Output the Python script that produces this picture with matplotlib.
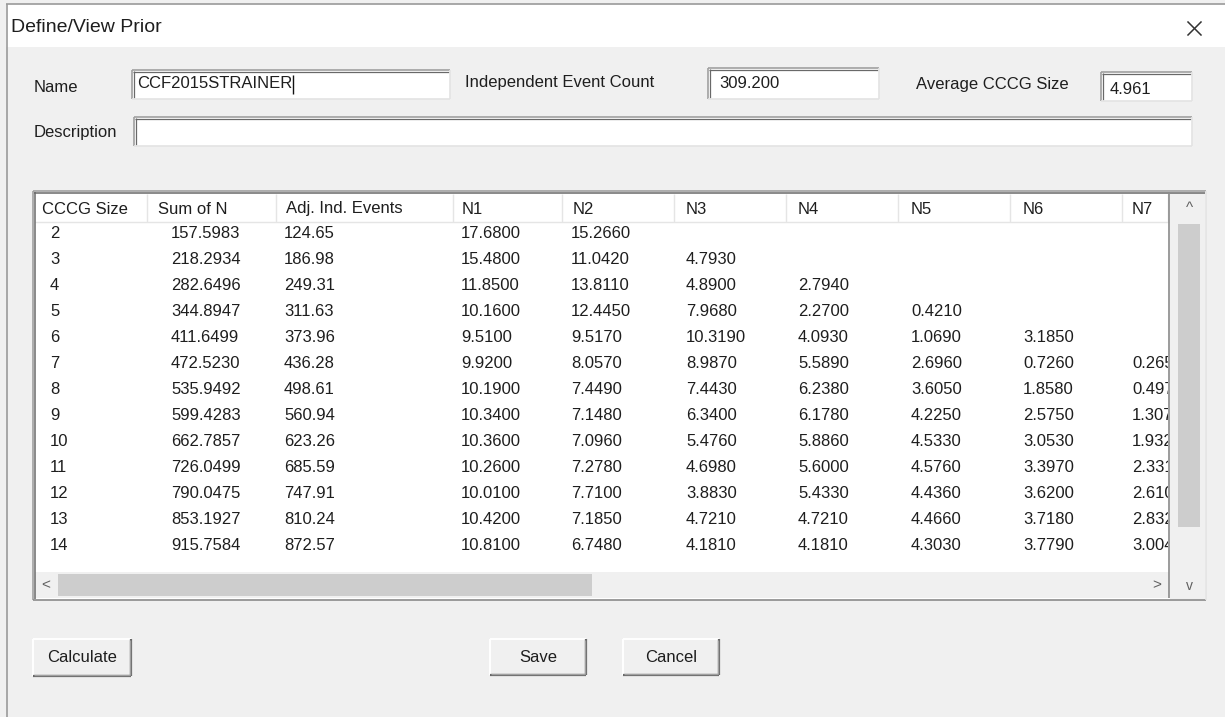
import matplotlib
matplotlib.use("Agg")
import matplotlib.pyplot as plt
from matplotlib.patches import Rectangle

# ---------------- data ----------------
title = "Define/View Prior"
name_value = "CCF2015STRAINER"
ind_event_count = "309.200"
avg_cccg_size = "4.961"

headers = ["CCCG Size", "Sum of N", "Adj. Ind. Events", "N1", "N2", "N3", "N4", "N5", "N6", "N7"]
cccg_size = [2, 3, 4, 5, 6, 7, 8, 9, 10, 11, 12, 13, 14]
sum_of_n = ["157.5983", "218.2934", "282.6496", "344.8947", "411.6499", "472.5230", "535.9492",
            "599.4283", "662.7857", "726.0499", "790.0475", "853.1927", "915.7584"]
adj_ind_events = ["124.65", "186.98", "249.31", "311.63", "373.96", "436.28", "498.61",
                  "560.94", "623.26", "685.59", "747.91", "810.24", "872.57"]
n1 = ["17.6800", "15.4800", "11.8500", "10.1600", "9.5100", "9.9200", "10.1900",
      "10.3400", "10.3600", "10.2600", "10.0100", "10.4200", "10.8100"]
n2 = ["15.2660", "11.0420", "13.8110", "12.4450", "9.5170", "8.0570", "7.4490",
      "7.1480", "7.0960", "7.2780", "7.7100", "7.1850", "6.7480"]
n3 = ["", "4.7930", "4.8900", "7.9680", "10.3190", "8.9870", "7.4430",
      "6.3400", "5.4760", "4.6980", "3.8830", "4.7210", "4.1810"]
n4 = ["", "", "2.7940", "2.2700", "4.0930", "5.5890", "6.2380",
      "6.1780", "5.8860", "5.6000", "5.4330", "4.7210", "4.1810"]
n5 = ["", "", "", "0.4210", "1.0690", "2.6960", "3.6050",
      "4.2250", "4.5330", "4.5760", "4.4360", "4.4660", "4.3030"]
n6 = ["", "", "", "", "3.1850", "0.7260", "1.8580",
      "2.5750", "3.0530", "3.3970", "3.6200", "3.7180", "3.7790"]
n7 = ["", "", "", "", "", "0.2650", "0.4970",
      "1.3070", "1.9320", "2.3310", "2.6100", "2.8320", "3.0040"]
buttons = ["Calculate", "Save", "Cancel"]

# ---------------- fonts ----------------
FONT = "Liberation Sans"
FS = 12.0
plt.rcParams["font.family"] = [FONT, "DejaVu Sans"]

W, H = 1225, 717
fig = plt.figure(figsize=(W / 100, H / 100), dpi=100)
ax = fig.add_axes([0, 0, 1, 1])
ax.set_xlim(0, W)
ax.set_ylim(H, 0)
ax.axis("off")

BG = "#f0f0f0"
TXT = "#1e1e1e"
fig.patch.set_facecolor(BG)


def rect(x0, y0, x1, y1, fc, ec="none", lw=0, z=1):
    ax.add_patch(Rectangle((x0, y0), x1 - x0, y1 - y0, facecolor=fc, edgecolor=ec,
                           linewidth=lw, zorder=z))


def hline(x0, x1, y, c, lw=1, z=3):
    ax.plot([x0, x1], [y, y], color=c, lw=lw, zorder=z, solid_capstyle="butt")


def vline(x, y0, y1, c, lw=1, z=3):
    ax.plot([x, x], [y0, y1], color=c, lw=lw, zorder=z, solid_capstyle="butt")


def sunken(x0, y0, x1, y1, fc="white", z=2):
    rect(x0, y0, x1, y1, fc, z=z)
    hline(x0, x1, y0, "#a0a0a0", 1.2, z + 1)
    vline(x0, y0, y1, "#a0a0a0", 1.2, z + 1)
    hline(x0 + 1, x1 - 1, y0 + 1.5, "#696969", 0.9, z + 1)
    vline(x0 + 1.5, y0 + 1, y1 - 1, "#696969", 0.9, z + 1)
    hline(x0, x1, y1, "#e3e3e3", 1.2, z + 1)
    vline(x1, y0, y1, "#e3e3e3", 1.2, z + 1)


def button(x0, y0, x1, y1, label):
    rect(x0, y0, x1, y1, "#f0f0f0", z=2)
    hline(x0, x1, y0, "white", 1.4, 3)
    vline(x0, y0, y1, "white", 1.4, 3)
    hline(x0, x1, y1, "#696969", 1.6, 3)
    vline(x1, y0, y1, "#696969", 1.6, 3)
    hline(x0 + 1, x1 - 1, y1 - 1.5, "#a0a0a0", 1.0, 3)
    vline(x1 - 1.5, y0 + 1, y1 - 1, "#a0a0a0", 1.0, 3)
    ax.text((x0 + x1) / 2, (y0 + y1) / 2, label, ha="center", va="center",
            fontsize=FS, color=TXT, zorder=4)


def txt(x, y, s, size=FS, color=TXT, ha="left", z=5):
    return ax.text(x, y, s, ha=ha, va="center", fontsize=size, color=color, zorder=z)


# ---------------- window chrome ----------------
rect(0, 0, W, H, BG, z=0)
rect(6, 4, W, 47, "white", z=1)
hline(6, W, 4, "#9a9a9a", 1.2, 2)
vline(7, 4, H, "#9a9a9a", 1.2, 2)
txt(11, 27, title, size=14)
ax.plot([1188, 1201], [22, 35], color="#333333", lw=1.1, zorder=5)
ax.plot([1188, 1201], [35, 22], color="#333333", lw=1.1, zorder=5)

# ---------------- fields ----------------
txt(34, 88, "Name")
sunken(132, 70, 450, 99)
t = txt(137, 84, name_value)
fig.canvas.draw()
bb = t.get_window_extent()
cur_x = bb.x1 + 1
vline(cur_x, 75, 94, "#111111", 1.0, 6)

txt(465, 82, "Independent Event Count")
sunken(708, 68, 879, 99)
txt(719, 83, ind_event_count)

txt(916, 85, "Average CCCG Size")
sunken(1101, 72, 1192, 101)
txt(1110, 89, avg_cccg_size)

txt(34, 133, "Description")
sunken(134, 117, 1192, 146)

# ---------------- table ----------------
TX0, TY0, TX1, TY1 = 33, 191, 1206, 600
DATA_R = 1169          # right edge of the visible grid area
HDR_Y0, HDR_Y1 = 194, 222
rect(TX0, TY0, TX1, TY1, "white", z=1)
hline(TX0, TX1, TY0, "#a0a0a0", 1.2, 8)
vline(TX0, TY0, TY1, "#a0a0a0", 1.2, 8)
hline(TX0 + 1, TX1 - 1, TY0 + 1.5, "#696969", 1.1, 8)
vline(TX0 + 1.5, TY0 + 1, TY1 - 1, "#696969", 1.1, 8)
hline(TX0, TX1, TY1, "#8a8a8a", 1.2, 8)
vline(TX1, TY0, TY1, "#e3e3e3", 1.2, 8)

col_left = [35, 148, 277, 454, 563, 675, 787, 899, 1011, 1123]
head_x = [42, 158, 286, 462, 573, 686, 798, 911, 1023, 1132]
data_x = [50, 171, 284, 461, 571, 686, 798, 911, 1023, 1132]

HS_Y0, HS_Y1 = 572, 598
clip = Rectangle((35, HDR_Y0), DATA_R - 1 - 35, HS_Y0 - HDR_Y0, transform=ax.transData)

# header
rect(35, HDR_Y0, DATA_R, HDR_Y1, "white", z=2)
hline(35, DATA_R, HDR_Y1, "#e5e5e5", 1.0, 3)
for i, h in enumerate(headers):
    if i > 0:
        vline(col_left[i] - 1, HDR_Y0, HDR_Y1, "#e5e5e5", 1.0, 3)
    ht = txt(head_x[i], (HDR_Y0 + HDR_Y1) / 2 + 1, h)
    ht.set_clip_on(True)
    ht.set_clip_path(clip)
vline(DATA_R - 1, HDR_Y0, HDR_Y1, "#e5e5e5", 1.0, 3)

columns = [[str(v) for v in cccg_size], sum_of_n, adj_ind_events, n1, n2, n3, n4, n5, n6, n7]
ROW0, DY = 234, 26.0
for c, (vals, x) in enumerate(zip(columns, data_x)):
    for r, v in enumerate(vals):
        if v:
            tt = txt(x, ROW0 + r * DY, v)
            tt.set_clip_on(True)
            tt.set_clip_path(clip)

# horizontal scrollbar
rect(35, HS_Y0, DATA_R, HS_Y1, "#f0f0f0", z=4)
rect(58, HS_Y0 + 2, 592, HS_Y1 - 2, "#cdcdcd", z=5)
txt(46, (HS_Y0 + HS_Y1) / 2, "<", size=FS - 1, color="#606060", ha="center")
txt(DATA_R - 12, (HS_Y0 + HS_Y1) / 2, ">", size=FS - 1, color="#606060", ha="center")
vline(DATA_R, HDR_Y0, HS_Y1, "#8a8a8a", 1.2, 6)

# vertical scrollbar
rect(DATA_R + 1, TY0 + 2, TX1 - 1, TY1 - 1, "#f0f0f0", z=4)
rect(DATA_R + 9, 224, DATA_R + 31, 527, "#cdcdcd", z=5)
VX = DATA_R + 20
txt(VX, (HDR_Y0 + HDR_Y1) / 2, "^", size=FS - 1, color="#606060", ha="center")
txt(VX, 586, "v", size=FS - 2, color="#606060", ha="center")

# ---------------- buttons ----------------
button(33, 639, 131, 676, buttons[0])
button(490, 639, 586, 675, buttons[1])
button(623, 639, 719, 675, buttons[2])

fig.savefig("out.png", dpi=100, facecolor=BG)
